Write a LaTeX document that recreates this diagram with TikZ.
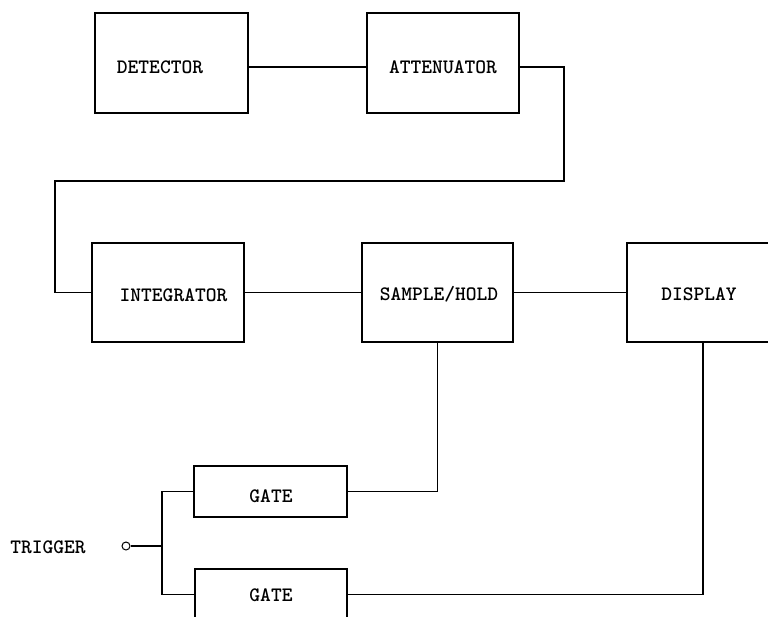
\documentclass[tikz,border=0pt]{standalone}
\usetikzlibrary{calc}
\begin{document}
\begin{tikzpicture}[x=1pt,y=-1pt,
  box/.style={draw, line width=1.5pt, inner sep=0pt},
  lbl/.style={font=\fontsize{20.5}{24}\selectfont\ttfamily\bfseries, inner sep=0pt},
  wire/.style={line width=1.5pt}]
\clip (0,0) rectangle (768,617);
\fill[white] (0,0) rectangle (768,617);
% boxes
\node[box, minimum width=153pt, minimum height=100pt] (det)  at (171.5,63) {};
\node[box, minimum width=152pt, minimum height=100pt] (att)  at (443,63) {};
\node[box, minimum width=152pt, minimum height=99pt]  (int)  at (168,292.5) {};
\node[box, minimum width=151pt, minimum height=99pt]  (sh)   at (437.5,292.5) {};
\node[box, minimum width=152pt, minimum height=99pt]  (disp) at (703,292.5) {};
\node[box, minimum width=153pt, minimum height=51pt]  (g1)   at (270.5,491.5) {};
\node[box, minimum width=152pt, minimum height=51pt]  (g2)   at (271,594.5) {};
% labels
\node[lbl] (detl)  at (160,67.5) {DETECTOR};
\node[lbl] (attl)  at (443,67) {ATTENUATOR};
\node[lbl] (intl)  at (173.5,295) {INTEGRATOR};
\node[lbl] (shl)   at (439,294) {SAMPLE/HOLD};
\node[lbl] (displ) at (699,294) {DISPLAY};
\node[lbl] (g1l)   at (271,496) {GATE};
\node[lbl] (g2l)   at (271,595) {GATE};
\node[lbl] (trigl) at (48,547.5) {TRIGGER};
% trigger terminal
\node[circle, draw, line width=1pt, minimum size=8pt, inner sep=0pt] (trig) at (126,546) {};
% connectors
\coordinate (r1) at (0,67);
\coordinate (c1) at (564,181);
\coordinate (c2) at (55,181);
\coordinate (j)  at (162,546);
\draw[wire] (det.east |- r1) -- (att.west |- r1);
\draw[wire] (att.east |- r1) -| (c1) -- (c2) |- (int.west);
\draw[wire] (int) -- (sh);
\draw[wire] (sh) -- (disp);
\draw[wire] (sh.south) |- (g1.east);
\draw[wire] (disp.south) |- (g2.east);
\draw[wire] (trig) -- (j);
\draw[wire] (g1.west) -| (j) |- (g2.west);
\end{tikzpicture}
\end{document}
